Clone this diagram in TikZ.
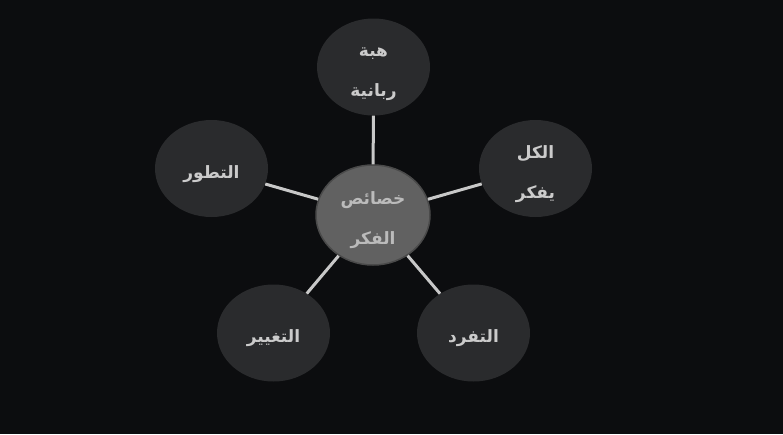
\documentclass[tikz,border=0pt]{standalone}
\usepackage{fontspec}
\usetikzlibrary{shapes.geometric}
\TeXXeTstate=1
\newfontfamily\arabicfont[Script=Arabic]{DejaVu Sans}
\newcommand{\rtl}[1]{\rule{0pt}{24pt}\beginR#1\endR}
\definecolor{bgdark}{HTML}{0C0D0F}
\definecolor{satfill}{HTML}{2A2B2D}
\definecolor{corefill}{HTML}{616161}
\definecolor{coreline}{HTML}{4A4A4A}
\definecolor{linkgray}{HTML}{C8C8C8}
\definecolor{textgray}{HTML}{CBCBCB}

\tikzset{
  idea/.style={ellipse, fill=satfill, minimum width=113pt, minimum height=97pt,
    inner sep=0pt, align=center, text=textgray,
    font=\arabicfont\bfseries\fontsize{17}{40}\selectfont},
  core/.style={idea, fill=corefill, draw=coreline, line width=1.5pt,
    minimum width=114pt, minimum height=100pt, text={textgray!92!black}},
  link/.style={draw=linkgray, line width=3pt}
}

\begin{document}
\begin{tikzpicture}[x=1pt, y=-1pt]
  \fill[bgdark] (0,0) rectangle (783,434);
  \useasboundingbox (0,0) rectangle (783,434);

  \node[core] (fikr) at (373,215) {\rtl{خصائص}\\\rtl{الفكر}};
  \node[idea] (hiba) at (373.5,67) {\rtl{هبة}\\\rtl{ربانية}};
  \node[idea] (tatawur) at (211.5,168.5) {\rtl{التطور}};
  \node[idea] (kull) at (535.5,168.5) {\rtl{الكل}\\\rtl{يفكر}};
  \node[idea] (taghyir) at (273.5,333) {\rtl{التغيير}};
  \node[idea] (tafarrud) at (473.5,333) {\rtl{التفرد}};

  \draw[link] (fikr) -- (hiba);
  \draw[link] (fikr) -- (tatawur);
  \draw[link] (fikr) -- (kull);
  \draw[link] (fikr) -- (taghyir);
  \draw[link] (fikr) -- (tafarrud);
\end{tikzpicture}
\end{document}
